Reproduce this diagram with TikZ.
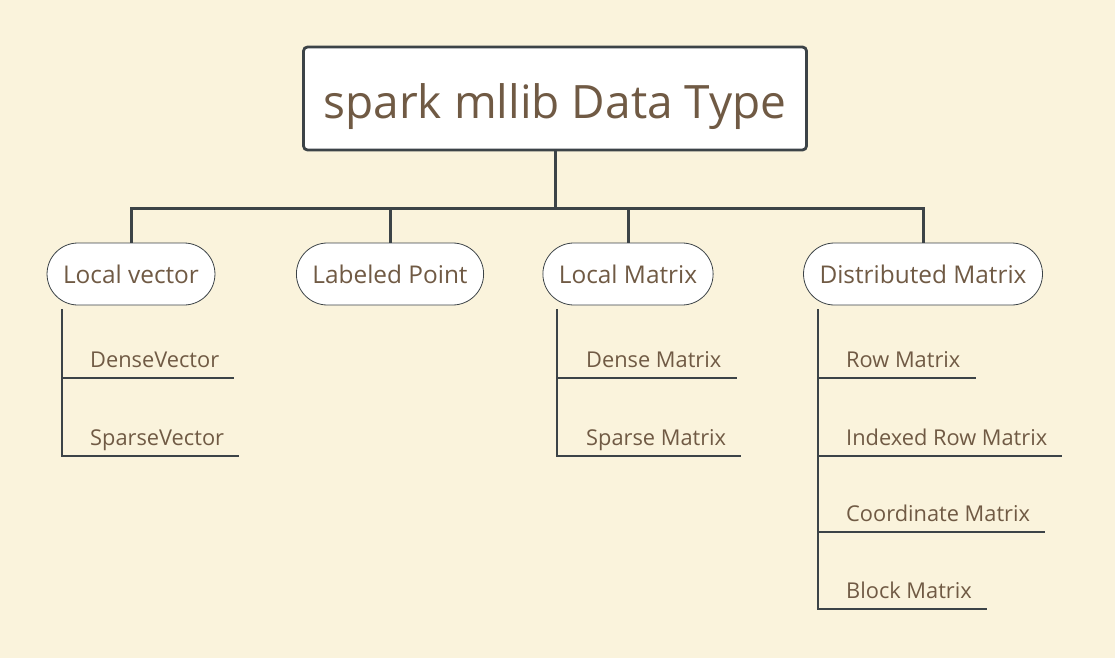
\documentclass[tikz,border=0pt]{standalone}
\usepackage{fontspec}
\setmainfont{Open Sans}
\usepackage{tikz}
\usetikzlibrary{positioning}

\definecolor{paper}{RGB}{250,243,220}
\definecolor{ink}{RGB}{112,90,68}
\definecolor{wire}{RGB}{60,67,71}

\tikzset{
  root/.style={draw=wire, line width=2.8pt, fill=white, rounded corners=4pt,
    minimum width=503pt, minimum height=103pt, text=ink,
    text height=40pt, text depth=0pt,
    font=\fontsize{46}{55}\selectfont},
  topic/.style={draw=wire, line width=0.8pt, fill=white, rounded corners=31pt,
    minimum height=62pt, inner xsep=16pt, text=ink,
    font=\fontsize{24.4}{29}\selectfont},
  leaf/.style={anchor=base west, inner sep=0pt, text=ink,
    font=\fontsize{21.8}{26}\selectfont},
  trunk/.style={draw=wire, line width=3pt},
  twig/.style={draw=wire, line width=1.4pt},
}

\begin{document}
\begin{tikzpicture}[x=1pt, y=-1pt]
        \fill [paper] (0,0) rectangle (1115,658);
        \useasboundingbox (0,0) rectangle (1115,658);

        % Root
        \node [root] (root) at (555,98.5) {spark mllib Data Type};
        \coordinate (hub) at (555,208);

        % Topics
        \node [topic] (lv) at (131,274) {Local vector};
        \node [topic] (lp) at (390,274) {Labeled Point};
        \node [topic] (lm) at (628,274) {Local Matrix};
        \node [topic] (dm) at (923,274) {Distributed Matrix};

        \draw [trunk] (root.south) -- (hub);
        \draw [trunk] (hub) -| (lv.north);
        \draw [trunk] (hub) -| (lp.north);
        \draw [trunk] (hub) -| (lm.north);
        \draw [trunk] (hub) -| (dm.north);

        % Local vector leaves
        \coordinate (lvstem) at (62,309);
        \node [leaf] (dv) at (90,367) {DenseVector};
        \node [leaf] (sv) at (90,445) {SparseVector};
        \draw [twig] (lvstem) |- ([xshift=15pt, yshift=-11pt]dv.base east);
        \draw [twig] (lvstem) |- ([xshift=15pt, yshift=-11pt]sv.base east);

        % Local Matrix leaves
        \coordinate (lmstem) at (557,309);
        \node [leaf] (dnm) at (586,367) {Dense Matrix};
        \node [leaf] (spm) at (586,445) {Sparse Matrix};
        \draw [twig] (lmstem) |- ([xshift=15pt, yshift=-11pt]dnm.base east);
        \draw [twig] (lmstem) |- ([xshift=15pt, yshift=-11pt]spm.base east);

        % Distributed Matrix leaves
        \coordinate (dmstem) at (818,309);
        \node [leaf] (rm) at (846,367) {Row Matrix};
        \node [leaf] (irm) at (846,445) {Indexed Row Matrix};
        \node [leaf] (cm) at (846,521) {Coordinate Matrix};
        \node [leaf] (bm) at (846,598) {Block Matrix};
        \draw [twig] (dmstem) |- ([xshift=15pt, yshift=-11pt]rm.base east);
        \draw [twig] (dmstem) |- ([xshift=15pt, yshift=-11pt]irm.base east);
        \draw [twig] (dmstem) |- ([xshift=15pt, yshift=-11pt]cm.base east);
        \draw [twig] (dmstem) |- ([xshift=15pt, yshift=-11pt]bm.base east);
\end{tikzpicture}
\end{document}
